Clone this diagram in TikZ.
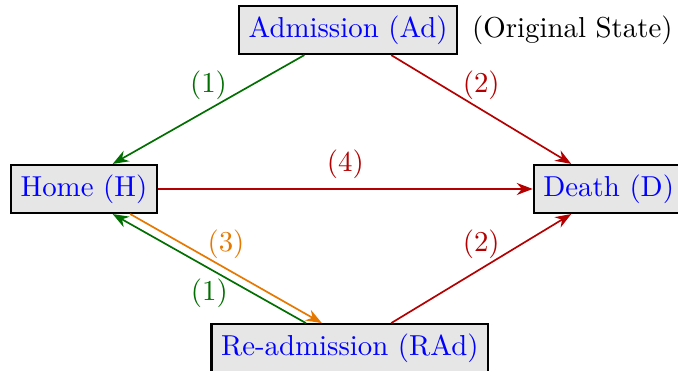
\documentclass[tikz,border=0pt]{standalone}
\usepackage{tikz}
\usetikzlibrary{arrows.meta,positioning,calc}
\usepackage{xcolor}
\definecolor{stategray}{HTML}{E6E6E6}
\definecolor{homegreen}{HTML}{006E00}
\definecolor{deathred}{HTML}{B40000}
\definecolor{readmorange}{HTML}{E67800}

\begin{document}
\begin{tikzpicture}[
  font=\fontsize{10.3pt}{12pt}\selectfont,
  state/.style={draw, thick, fill=stategray, text=blue, inner sep=3.4pt},
  toh/.style={->, semithick, draw=homegreen},
  tod/.style={->, semithick, draw=deathred},
  tor/.style={->, semithick, draw=readmorange},
  lab/.style={midway, inner sep=3.33pt},
  >=Stealth
]
\useasboundingbox (0,0) rectangle (8.51,-4.656);

% ---- states ----
\node[state] (ad) at (4.37,-0.377) {Admission (Ad)};
\node[right=0.05cm of ad] (orig) {(Original State)};
\node[state] (h) at (1.054,-2.372) {Home (H)};
\node[state] (d) at (7.64,-2.372) {Death (D)};
\node[state] (rad) at (4.39,-4.37) {Re-admission (RAd)};

% ---- transitions ----
\draw[toh] ([xshift=-0.55cm]ad.south) -- node[lab, above, text=homegreen] {(1)} ([xshift=0.36cm]h.north);
\draw[tod] ([xshift=0.54cm]ad.south) -- node[lab, above, text=deathred] {(2)} ([xshift=-0.47cm]d.north);
\draw[tod] (h.east) -- node[lab, above, text=deathred] {(4)} (d.west);
\draw[tor] ([xshift=0.58cm]h.south) -- node[lab, above, text=readmorange] {(3)} ([xshift=-0.35cm]rad.north);
\draw[toh] ([xshift=-0.55cm]rad.north) -- node[lab, below, text=homegreen] {(1)} ([xshift=0.36cm]h.south);
\draw[tod] ([xshift=0.52cm]rad.north) -- node[lab, above, text=deathred] {(2)} ([xshift=-0.47cm]d.south);

\end{tikzpicture}
\end{document}
